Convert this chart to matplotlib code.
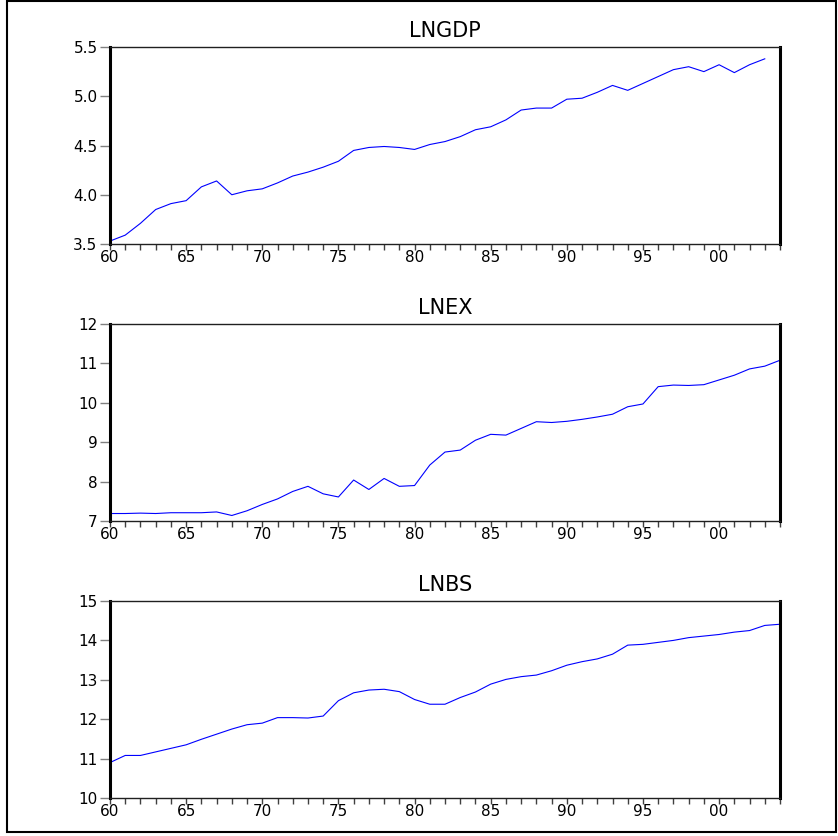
import matplotlib.pyplot as plt
import numpy as np
from matplotlib.patches import Rectangle
from matplotlib.ticker import FuncFormatter, MultipleLocator

plt.rcParams['font.family'] = ['DejaVu Sans']

## data ##
years_gdp = np.arange(1960, 2004)
lngdp = [3.53, 3.59, 3.71, 3.85, 3.91, 3.94, 4.08, 4.14, 4.00, 4.04,
         4.06, 4.12, 4.19, 4.23, 4.28, 4.34, 4.45, 4.48, 4.49, 4.48,
         4.46, 4.51, 4.54, 4.59, 4.66, 4.69, 4.76, 4.86, 4.88, 4.88,
         4.97, 4.98, 5.04, 5.11, 5.06, 5.13, 5.20, 5.27, 5.30, 5.25,
         5.32, 5.24, 5.32, 5.38]

years = np.arange(1960, 2005)
lnex = [7.19, 7.19, 7.20, 7.19, 7.21, 7.21, 7.21, 7.23, 7.14, 7.26,
        7.42, 7.56, 7.75, 7.88, 7.69, 7.61, 8.04, 7.80, 8.08, 7.88,
        7.90, 8.42, 8.75, 8.80, 9.05, 9.20, 9.18, 9.35, 9.52, 9.50,
        9.53, 9.58, 9.64, 9.71, 9.90, 9.97, 10.41, 10.45, 10.44, 10.46,
        10.58, 10.70, 10.86, 10.93, 11.08]

lnbs = [10.90, 11.08, 11.08, 11.17, 11.26, 11.35, 11.49, 11.62, 11.75, 11.86,
        11.90, 12.04, 12.04, 12.03, 12.08, 12.47, 12.67, 12.74, 12.76, 12.70,
        12.50, 12.38, 12.38, 12.55, 12.69, 12.89, 13.01, 13.08, 13.12, 13.23,
        13.37, 13.46, 13.53, 13.65, 13.88, 13.90, 13.95, 14.00, 14.07, 14.11,
        14.15, 14.21, 14.25, 14.38, 14.41]

titles = ["LNGDP", "LNEX", "LNBS"]
ylims = [(3.5, 5.5), (7, 12), (10, 15)]
ysteps = [0.5, 1, 1]

W, H = 838, 836
fig = plt.figure(figsize=(W / 100, H / 100), dpi=100)

# outer frame
fig.patches.append(Rectangle((7 / W, 1 - 832 / H), 829 / W, 831 / H, transform=fig.transFigure,
                             fill=False, edgecolor='black', linewidth=1.5))

# axes boxes in pixel coords: left, right, top, bottom
boxes = [(110, 780, 47, 244), (110, 780, 324, 521), (110, 780, 601, 798)]
series = [(years_gdp, lngdp), (years, lnex), (years, lnbs)]

for i, (l, r, t, b) in enumerate(boxes):
    ax = fig.add_axes([l / W, 1 - b / H, (r - l) / W, (b - t) / H])
    x, y = series[i]
    ax.plot(x, y, color='#0000ff', linewidth=0.8)
    ax.set_xlim(1960, 2004)
    ax.set_ylim(*ylims[i])
    ax.yaxis.set_major_locator(MultipleLocator(ysteps[i]))
    if ysteps[i] < 1:
        ax.yaxis.set_major_formatter(FuncFormatter(lambda v, p: "%.1f" % v))
    else:
        ax.yaxis.set_major_formatter(FuncFormatter(lambda v, p: "%d" % v))
    ax.xaxis.set_major_locator(MultipleLocator(5))
    ax.xaxis.set_minor_locator(MultipleLocator(1))
    ax.xaxis.set_major_formatter(FuncFormatter(lambda v, p: "%02d" % (int(round(v)) % 100)))
    ax.tick_params(axis='y', direction='out', length=7, width=1, color='#808080',
                   labelsize=11, pad=2)
    ax.tick_params(axis='x', which='both', direction='out', length=4, width=1, color='#404040',
                   labelsize=11, pad=0)
    ax.spines['left'].set_linewidth(2.2)
    ax.spines['right'].set_linewidth(2.2)
    ax.spines['top'].set_linewidth(1)
    ax.spines['bottom'].set_linewidth(1)
    ax.spines['top'].set_color('#202020')
    ax.spines['bottom'].set_color('#202020')
    ax.set_title(titles[i], fontsize=15, pad=7)

fig.savefig("out.png", dpi=100)
